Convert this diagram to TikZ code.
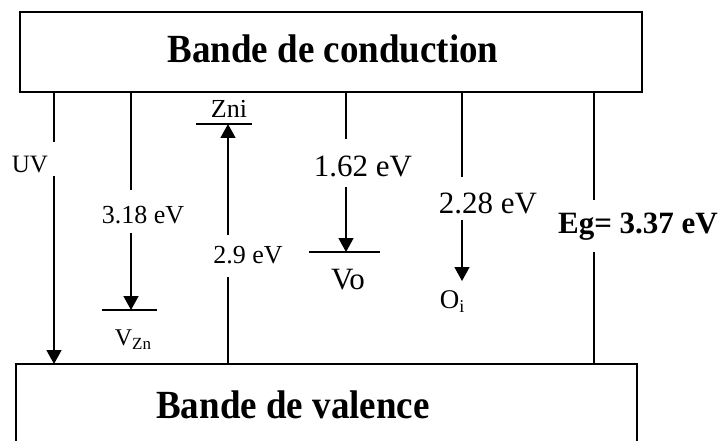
\documentclass[tikz,border=0pt]{standalone}
\usepackage{fontspec}
\setmainfont{Liberation Serif}
\usetikzlibrary{arrows.meta}
\newcommand{\fsz}[1]{\fontsize{#1}{#1}\selectfont}
\tikzset{
  ln/.style={line width=1.6pt},
  arr/.style={line width=1.6pt,-{Triangle[width=15pt,length=14pt]}},
  lbl/.style={inner sep=0pt,font=\fsz{26}},
  biglbl/.style={inner sep=0pt,font=\fsz{31}},
  band/.style={inner sep=0pt,font=\bfseries\fsz{37}}
}
\begin{document}
\begin{tikzpicture}[x=1pt,y=-1pt]
\useasboundingbox (0,0) rectangle (723,441);
% conduction band
\node[draw,ln,minimum width=622pt,minimum height=80pt,inner sep=0pt] (cb) at (331,52) {};
\node[band] (cbt) at (333,49) {\scalebox{1}[1.08]{Bande de conduction}};
% valence band (open at bottom)
\coordinate (vbl) at (16,441);
\coordinate (vbtl) at (16,364);
\coordinate (vbtr) at (637,364);
\coordinate (vbr) at (637,441);
\draw[ln] (vbl) -- (vbtl) -- (vbtr) -- (vbr);
\node[band] (vbt) at (293,405) {\scalebox{1}[1.08]{Bande de valence}};

% UV
\coordinate (uv1) at (54,92.7); \coordinate (uv2) at (54,142);
\coordinate (uv3) at (54,176); \coordinate (uv4) at (54,364);
\draw[ln] (uv1) -- (uv2);
\draw[arr] (uv3) -- (uv4);
\node[lbl,font=\fsz{25}] (uv) at (30,165) {UV};

% VZn
\coordinate (z1) at (131,92.7); \coordinate (z2) at (131,190);
\coordinate (z3) at (131,233); \coordinate (z4) at (131,310);
\draw[ln] (z1) -- (z2);
\draw[arr] (z3) -- (z4);
\node[lbl] (e318) at (143,215) {3.18 eV};
\coordinate (vzl) at (102,310); \coordinate (vzr) at (157,310);
\draw[ln] (vzl) -- (vzr);
\node[inner sep=0pt] (vzn) at (133,340) {\fsz{24}V\raisebox{-4pt}{\fsz{17}Zn}};

% Zni
\coordinate (i1) at (228,364); \coordinate (i2) at (228,277);
\coordinate (i3) at (228,235); \coordinate (i4) at (228,124);
\draw[ln] (i1) -- (i2);
\draw[arr] (i3) -- (i4);
\node[lbl] (e29) at (248,255) {2.9 eV};
\coordinate (znl) at (196,124); \coordinate (znr) at (252,124);
\draw[ln] (znl) -- (znr);
\node[lbl] (zni) at (229,109) {Zni};

% Vo
\coordinate (o1) at (346,92.7); \coordinate (o2) at (346,139);
\coordinate (o3) at (346,187); \coordinate (o4) at (346,252);
\draw[ln] (o1) -- (o2);
\draw[arr] (o3) -- (o4);
\node[biglbl] (e162) at (363,166) {1.62 eV};
\coordinate (vol) at (309,252); \coordinate (vor) at (380,252);
\draw[ln] (vol) -- (vor);
\node[biglbl] (vo) at (348,280) {Vo};

% Oi
\coordinate (p1) at (462,92.7); \coordinate (p2) at (462,177);
\coordinate (p3) at (462,220); \coordinate (p4) at (462,281);
\draw[ln] (p1) -- (p2);
\draw[arr] (p3) -- (p4);
\node[biglbl] (e228) at (488,203) {2.28 eV};
\node[inner sep=0pt] (oi) at (452,302) {\fsz{27}O\raisebox{-4pt}{\fsz{18}i}};

% Eg
\coordinate (g1) at (594,92.7); \coordinate (g2) at (594,200);
\coordinate (g3) at (594,252); \coordinate (g4) at (594,364);
\draw[ln] (g1) -- (g2);
\draw[ln] (g3) -- (g4);
\node[biglbl,font=\bfseries\fsz{31}] (eg) at (638,227) {Eg= 3.37 eV};
\end{tikzpicture}
\end{document}
